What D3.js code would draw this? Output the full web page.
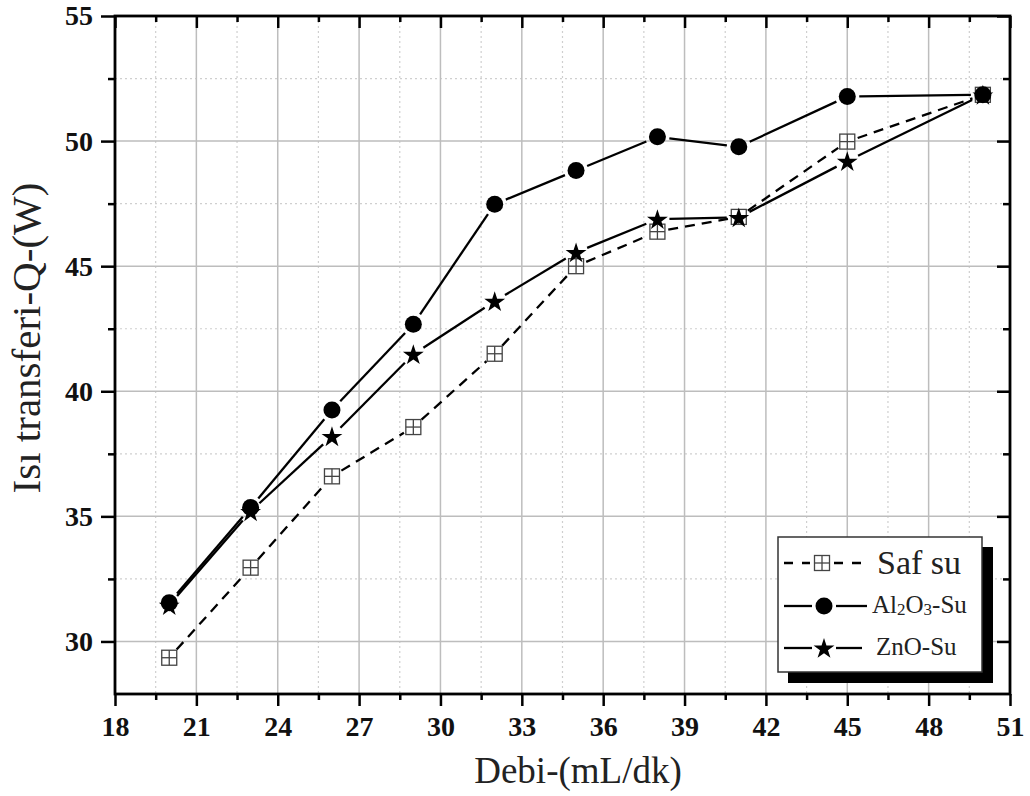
<!DOCTYPE html>
<html>
<head>
<meta charset="utf-8">
<script src="https://cdn.jsdelivr.net/npm/d3@7"></script>
<style>
  html, body { margin: 0; padding: 0; background: #fff; }
  svg { display: block; font-family: "Liberation Serif", "Times New Roman", serif; }
</style>
</head>
<body>
<svg id="chart" width="1030" height="796"></svg>
<script>
// ---- data ----
const flowRates = [20, 23, 26, 29, 32, 35, 38, 41, 45, 50];
const safSu     = [29.35, 32.95, 36.6, 38.57, 41.5, 45.0, 46.38, 46.97, 49.98, 51.85];
const al2o3Su   = [31.55, 35.35, 39.25, 42.68, 47.48, 48.82, 50.17, 49.77, 51.78, 51.85];
const znoSu     = [31.45, 35.2, 38.2, 41.48, 43.6, 45.55, 46.88, 46.95, 49.2, 51.85];
const xTicks = [18, 21, 24, 27, 30, 33, 36, 39, 42, 45, 48, 51];
const yTicks = [30, 35, 40, 45, 50, 55];
const xDomain = [18, 51];
const yDomain = [27.9, 55];
const xLabel = "Debi-(mL/dk)";
const yLabel = "Isı transferi-Q-(W)";

// ---- layout ----
const svg = d3.select("#chart");
const L = 115, R = 1010, T = 16, B = 694;
const x = d3.scaleLinear().domain(xDomain).range([L, R]);
const y = d3.scaleLinear().domain(yDomain).range([B, T]);

const xMinor = xTicks.slice(0, -1).map(v => v + 1.5);
const yMinor = yTicks.map(v => v - 2.5).filter(v => v > yDomain[0]);

// grid
const grid = svg.append("g");
grid.selectAll(".gmx").data(xMinor).enter().append("line")
  .attr("x1", d => x(d)).attr("x2", d => x(d)).attr("y1", T).attr("y2", B)
  .attr("stroke", "#cfcfcf").attr("stroke-width", 1.2).attr("stroke-dasharray", "2,3");
grid.selectAll(".gmy").data(yMinor).enter().append("line")
  .attr("y1", d => y(d)).attr("y2", d => y(d)).attr("x1", L).attr("x2", R)
  .attr("stroke", "#cfcfcf").attr("stroke-width", 1.2).attr("stroke-dasharray", "2,3");
grid.selectAll(".gx").data(xTicks.slice(1, -1)).enter().append("line")
  .attr("x1", d => x(d)).attr("x2", d => x(d)).attr("y1", T).attr("y2", B)
  .attr("stroke", "#bdbdbd").attr("stroke-width", 1.5);
grid.selectAll(".gy").data(yTicks.filter(v => v < yDomain[1])).enter().append("line")
  .attr("y1", d => y(d)).attr("y2", d => y(d)).attr("x1", L).attr("x2", R)
  .attr("stroke", "#bdbdbd").attr("stroke-width", 1.5);

// axes
const axStyle = g => {
  g.select(".domain").remove();
  g.selectAll(".tick line").attr("stroke", "#000").attr("stroke-width", 2.5);
};
// bottom major
svg.append("g").attr("transform", `translate(0,${B})`)
  .call(d3.axisBottom(x).tickValues(xTicks).tickSize(12).tickPadding(10).tickFormat(d3.format("d")))
  .call(axStyle)
  .call(g => g.selectAll("text").attr("font-size", 28).attr("font-weight", "bold")
    .attr("font-family", "Liberation Serif, serif").attr("fill", "#111"));
svg.append("g").attr("transform", `translate(0,${B})`)
  .call(d3.axisBottom(x).tickValues(xMinor).tickSize(6).tickFormat(""))
  .call(axStyle);
// top inward
svg.append("g").attr("transform", `translate(0,${T})`)
  .call(d3.axisBottom(x).tickValues(xTicks).tickSize(12).tickFormat(""))
  .call(axStyle);
svg.append("g").attr("transform", `translate(0,${T})`)
  .call(d3.axisBottom(x).tickValues(xMinor).tickSize(6).tickFormat(""))
  .call(axStyle);
// left
svg.append("g").attr("transform", `translate(${L},0)`)
  .call(d3.axisLeft(y).tickValues(yTicks).tickSize(14).tickPadding(8).tickFormat(d3.format("d")))
  .call(axStyle)
  .call(g => g.selectAll("text").attr("font-size", 28).attr("font-weight", "bold")
    .attr("font-family", "Liberation Serif, serif").attr("fill", "#111"));
svg.append("g").attr("transform", `translate(${L},0)`)
  .call(d3.axisLeft(y).tickValues(yMinor).tickSize(7).tickFormat(""))
  .call(axStyle);
// right inward
svg.append("g").attr("transform", `translate(${R},0)`)
  .call(d3.axisLeft(y).tickValues(yTicks).tickSize(13).tickFormat(""))
  .call(axStyle);
svg.append("g").attr("transform", `translate(${R},0)`)
  .call(d3.axisLeft(y).tickValues(yMinor).tickSize(7).tickFormat(""))
  .call(axStyle);
// frame
svg.append("rect").attr("x", L).attr("y", T).attr("width", R - L).attr("height", B - T)
  .attr("fill", "none").attr("stroke", "#000").attr("stroke-width", 2.8);

// axis titles
svg.append("text").attr("x", 578).attr("y", 783).attr("text-anchor", "middle")
  .attr("font-size", 37).attr("fill", "#222").text(xLabel);
svg.append("text").attr("transform", "translate(40,338) rotate(-90)").attr("text-anchor", "middle")
  .attr("font-size", 41).attr("fill", "#222").text(yLabel);

// ---- series drawing ----
const starPath = d3.symbol().type(d3.symbolStar).size(135)();
function drawMarker(g, type, cx, cy) {
  if (type === "square") {
    const s = 15, h = s / 2;
    const m = g.append("g").attr("transform", `translate(${cx},${cy})`);
    m.append("rect").attr("x", -h).attr("y", -h).attr("width", s).attr("height", s)
      .attr("fill", "#fff").attr("stroke", "#444").attr("stroke-width", 1.3);
    m.append("line").attr("x1", -h).attr("x2", h).attr("y1", 0).attr("y2", 0)
      .attr("stroke", "#444").attr("stroke-width", 1.3);
    m.append("line").attr("y1", -h).attr("y2", h).attr("x1", 0).attr("x2", 0)
      .attr("stroke", "#444").attr("stroke-width", 1.3);
  } else if (type === "circle") {
    g.append("circle").attr("cx", cx).attr("cy", cy).attr("r", 8.5).attr("fill", "#000");
  } else {
    g.append("path").attr("d", starPath).attr("transform", `translate(${cx},${cy + 1})`).attr("fill", "#000");
  }
}
function drawSegments(g, pts, gap, dash) {
  for (let i = 0; i < pts.length - 1; i++) {
    const [x0, y0] = pts[i], [x1, y1] = pts[i + 1];
    const dx = x1 - x0, dy = y1 - y0, len = Math.hypot(dx, dy);
    if (len <= 2 * gap) continue;
    const ux = dx / len, uy = dy / len;
    g.append("line")
      .attr("x1", x0 + ux * gap).attr("y1", y0 + uy * gap)
      .attr("x2", x1 - ux * gap).attr("y2", y1 - uy * gap)
      .attr("stroke", "#000").attr("stroke-width", 2.3)
      .attr("stroke-dasharray", dash || null);
  }
}
const series = [
  { name: "Saf su", values: safSu, marker: "square", gap: 11, dash: "10,7" },
  { name: "ZnO-Su", values: znoSu, marker: "star", gap: 12, dash: null },
  { name: "Al2O3-Su", values: al2o3Su, marker: "circle", gap: 12, dash: null }
];
series.forEach(s => {
  const g = svg.append("g");
  const pts = flowRates.map((f, i) => [x(f), y(s.values[i])]);
  drawSegments(g, pts, s.gap, s.dash);
  pts.forEach(p => drawMarker(g, s.marker, p[0], p[1]));
});

// ---- legend ----
const lg = svg.append("g");
lg.append("rect").attr("x", 788).attr("y", 547).attr("width", 205).attr("height", 136).attr("fill", "#000");
lg.append("rect").attr("x", 778).attr("y", 537).attr("width", 204).attr("height", 135)
  .attr("fill", "#fff").attr("stroke", "#333").attr("stroke-width", 1.5);
const rows = [
  { y: 563, marker: "square", dash: "9,9", x2: 867, mx: 822 },
  { y: 606, marker: "circle", dash: null, x2: 867, mx: 824 },
  { y: 648, marker: "star", dash: null, x2: 862, mx: 824 }
];
rows.forEach(r => {
  const gap = 12;
  [[784, r.mx - gap], [r.mx + gap, r.x2]].forEach(([a, b]) => {
    lg.append("line").attr("x1", a).attr("x2", b).attr("y1", r.y).attr("y2", r.y)
      .attr("stroke", "#000").attr("stroke-width", 2.3).attr("stroke-dasharray", r.dash);
  });
  drawMarker(lg, r.marker, r.mx, r.y);
});
lg.append("text").attr("x", 877).attr("y", 574).attr("font-size", 34).attr("fill", "#222").text(series[0].name);
const t2 = lg.append("text").attr("x", 872).attr("y", 613).attr("font-size", 25).attr("fill", "#222");
t2.append("tspan").text("Al");
t2.append("tspan").attr("font-size", 17).attr("dy", 2).text("2");
t2.append("tspan").attr("dy", -2).text("O");
t2.append("tspan").attr("font-size", 17).attr("dy", 2).text("3");
t2.append("tspan").attr("dy", -2).text("-Su");
lg.append("text").attr("x", 876).attr("y", 655).attr("font-size", 25).attr("fill", "#222").text(series[1].name);
</script>
</body>
</html>
